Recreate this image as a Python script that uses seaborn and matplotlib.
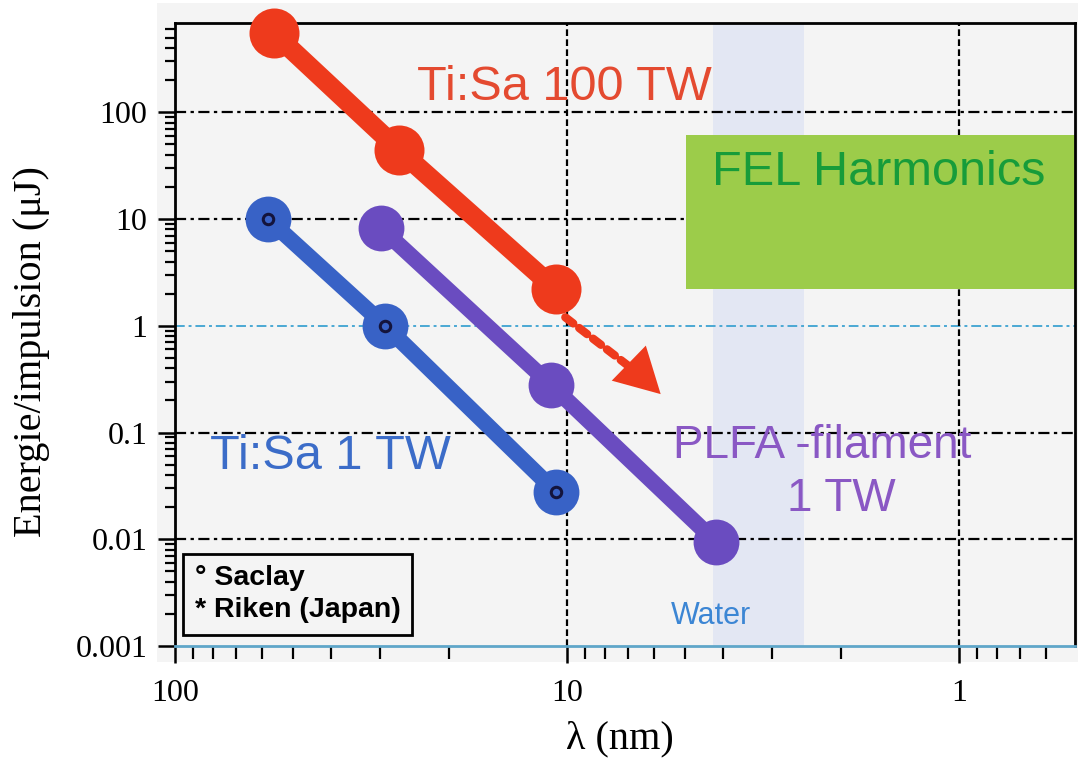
import numpy as np
import pandas as pd
import matplotlib
matplotlib.use("Agg")
import matplotlib.pyplot as plt
import seaborn as sns
from matplotlib.patches import Rectangle
from matplotlib.ticker import FixedLocator, LogLocator, NullFormatter

# ---------------- données ----------------
lam_100tw = [56.0, 26.9, 10.7]        # Ti:Sa 100 TW
E_100tw = [553.0, 44.7, 2.2]
lam_1tw = [57.9, 29.1, 10.7]          # Ti:Sa 1 TW (Saclay)
E_1tw = [10.0, 1.0, 0.028]
lam_plfa = [29.9, 11.0, 4.18]         # PLFA -filament 1 TW
E_plfa = [8.3, 0.28, 0.0095]

water_band = (4.25, 2.49)             # fenêtre de l'eau (nm)
fel_lam = (4.98, 0.506)               # boîte FEL Harmonics
fel_E = (2.19, 61.6)
arrow_start = (10.1, 1.2)
arrow_end = (5.77, 0.229)

xticks = [100, 10, 1]
xtick_labels = ["100", "10", "1"]
yticks = [0.001, 0.01, 0.1, 1, 10, 100]
ytick_labels = ["0.001", "0.01", "0.1", "1", "10", "100"]

df = pd.concat([
    pd.DataFrame({"lam": lam_100tw, "E": E_100tw, "serie": "Ti:Sa 100 TW"}),
    pd.DataFrame({"lam": lam_1tw, "E": E_1tw, "serie": "Ti:Sa 1 TW"}),
    pd.DataFrame({"lam": lam_plfa, "E": E_plfa, "serie": "PLFA"}),
], ignore_index=True)

# ---------------- style ----------------
RED = "#ee3a1c"
BLUE = "#3862c6"
PURPLE = "#6a4cc0"
BG = "#f4f4f4"
GREEN = "#9ccc4a"

sns.set_style("white")
plt.rcParams["font.family"] = ["Liberation Serif", "DejaVu Serif"]
plt.rcParams.update({"text.color": "black", "axes.labelcolor": "black",
                     "xtick.color": "black", "ytick.color": "black"})

fig = plt.figure(figsize=(10.78, 7.6), dpi=100)
fig.add_artist(Rectangle((157 / 1078, 1 - 662 / 760), (1078 - 157) / 1078, (662 - 3) / 760,
                         transform=fig.transFigure, fc=BG, ec="none", zorder=-1))
ax = fig.add_axes([0.1623, 0.15, 0.835, 0.8197])
ax.set_facecolor(BG)
ax.set_xscale("log")
ax.set_yscale("log")
ax.set_xlim(100, 0.506)
ax.set_ylim(0.001, 686)

# fenêtre de l'eau + boîte FEL
ax.axvspan(*water_band, color="#e3e7f3", zorder=0.5, lw=0)
ax.add_patch(Rectangle((fel_lam[0], fel_E[0]), fel_lam[1] - fel_lam[0], fel_E[1] - fel_E[0],
                       fc=GREEN, ec="none", zorder=2))

# grille
grid_dash = (5, 2, 1.5, 2)
for v in [0.01, 0.1, 10, 100]:
    ax.axhline(v, color="black", lw=1.6, dashes=grid_dash, zorder=1)
ax.axhline(1, color="#4aa8d4", lw=1.4, dashes=grid_dash, zorder=1)
for v in [10, 1]:
    ax.axvline(v, color="black", lw=1.6, dashes=(3, 1.5), zorder=1)

# séries
styles = {"Ti:Sa 100 TW": (RED, 14, 36),
          "Ti:Sa 1 TW": (BLUE, 11.5, 33),
          "PLFA": (PURPLE, 11.5, 33)}
for name, (col, lw, ms) in styles.items():
    sub = df[df["serie"] == name]
    sns.lineplot(data=sub, x="lam", y="E", color=col, lw=lw, marker="o",
                 markersize=ms, markeredgewidth=0, sort=False, ax=ax,
                 clip_on=False, zorder=5, legend=False)

# petits cercles "Saclay"
sns.lineplot(x=lam_1tw, y=E_1tw, linestyle="", marker="o", markersize=7.5,
             markerfacecolor="none", markeredgecolor="#14143c", markeredgewidth=2.2,
             color="#14143c", sort=False, ax=ax, zorder=6, legend=False)

# flèche pointillée
ax.annotate("", xy=(6.4, 0.33), xytext=arrow_start,
            arrowprops=dict(arrowstyle="-", color=RED, lw=6, ls=(0, (1.2, 0.9)),
                            shrinkA=0, shrinkB=0), zorder=4)
ax.annotate("", xy=arrow_end, xytext=(6.6, 0.37),
            arrowprops=dict(arrowstyle="-|>,head_width=0.55,head_length=1.0", color=RED,
                            lw=0, mutation_scale=32, shrinkA=0, shrinkB=0), zorder=4)

# textes
sans = ["Liberation Sans", "DejaVu Sans"]
ax.text(10.15, 170, "Ti:Sa 100 TW", color="#e44a30", fontsize=35, family=sans,
        ha="center", va="center", zorder=3)
ax.text(40.2, 0.059, "Ti:Sa 1 TW", color="#3b6cc8", fontsize=35, family=sans,
        ha="center", va="center", zorder=3)
ax.text(2.24, 0.0748, "PLFA -filament", color="#8a58c4", fontsize=33, family=sans,
        ha="center", va="center", zorder=3)
ax.text(2.0, 0.0239, "1 TW", color="#8a58c4", fontsize=33, family=sans,
        ha="center", va="center", zorder=3)
ax.text(1.60, 27.2, "FEL Harmonics", color="#179c3a", fontsize=35, family=sans,
        ha="center", va="center", zorder=3)
ax.text(4.30, 0.0019, "Water", color="#3c86d4", fontsize=22, family=sans,
        ha="center", va="center", zorder=3)
ax.text(0.022, 0.083, "° Saclay\n* Riken (Japan)", transform=ax.transAxes,
        fontsize=20.5, fontweight="bold", family=sans, ha="left", va="center",
        linespacing=1.3, zorder=6, color="black",
        bbox=dict(boxstyle="square,pad=0.4", fc="none", ec="black", lw=2))

# axes / graduations
ax.xaxis.set_major_locator(FixedLocator(xticks))
ax.set_xticklabels(xtick_labels)
ax.xaxis.set_minor_locator(LogLocator(base=10, subs=np.arange(2, 10)))
ax.xaxis.set_minor_formatter(NullFormatter())
ax.yaxis.set_major_locator(FixedLocator(yticks))
ax.set_yticklabels(ytick_labels)
ax.yaxis.set_minor_locator(LogLocator(base=10, subs=np.arange(2, 10)))
ax.yaxis.set_minor_formatter(NullFormatter())

ax.tick_params(axis="x", which="major", direction="out", length=12, width=1.8,
               bottom=True, labelsize=23, pad=12, color="black")
ax.tick_params(axis="x", which="minor", direction="out", length=9, width=1.6,
               bottom=True, color="black")
ax.tick_params(axis="y", which="major", direction="out", length=12, width=1.8,
               left=True, labelsize=23, pad=8, color="black")
ax.tick_params(axis="y", which="minor", direction="out", length=7, width=1.6,
               left=True, color="black")

for side in ["top", "left", "right"]:
    ax.spines[side].set_color("black")
    ax.spines[side].set_linewidth(2)
ax.spines["bottom"].set_color("#5fa6c9")
ax.spines["bottom"].set_linewidth(2)

ax.set_xlabel("λ (nm)", fontsize=29)
ax.set_ylabel("Energie/impulsion (μJ)", fontsize=29)
ax.xaxis.set_label_coords(0.494, -0.12)
ax.yaxis.set_label_coords(-0.139, 0.472)

fig.savefig("out.png", dpi=100)
plt.close(fig)
